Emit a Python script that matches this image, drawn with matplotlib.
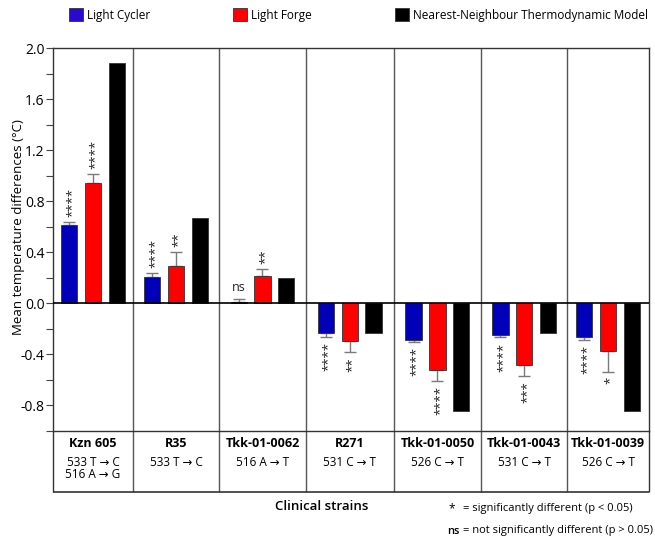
import numpy as np
import matplotlib
matplotlib.use("Agg")
import matplotlib.pyplot as plt
from matplotlib.patches import Patch

plt.rcParams['font.family'] = ['Open Sans', 'DejaVu Sans']

strains = ['Kzn 605', 'R35', 'Tkk-01-0062', 'R271', 'Tkk-01-0050', 'Tkk-01-0043', 'Tkk-01-0039']
mutations = [['533 T → C', '516 A → G'], ['533 T → C'], ['516 A → T'], ['531 C → T'],
             ['526 C → T'], ['531 C → T'], ['526 C → T']]

light_cycler = [0.61, 0.21, 0.01, -0.23, -0.285, -0.245, -0.26]
lc_err = [0.03, 0.03, 0.027, 0.03, 0.02, 0.022, 0.025]
light_forge = [0.945, 0.295, 0.215, -0.295, -0.52, -0.48, -0.375]
lf_err = [0.07, 0.105, 0.057, 0.09, 0.09, 0.09, 0.16]
nn_model = [1.88, 0.67, 0.195, -0.235, -0.845, -0.235, -0.845]

lc_sig = ['****', '****', 'ns', '****', '****', '****', '****']
lf_sig = ['****', '**', '**', '**', '****', '***', '*']

# column edges of the strain table (columns are not quite equal width)
edges = np.array([0, 0.94, 1.95, 2.97, 4.0, 5.03, 6.04, 7.0])

BLUE = '#0000b8'
RED = '#ff0000'
BLACK = '#000000'

fig = plt.figure(figsize=(6.55, 5.39), dpi=100)
ax = fig.add_axes([53 / 655, 108 / 539, 596 / 655, 383 / 539])

x = (edges[:-1] + edges[1:]) / 2
w = 0.19
off = 0.28

series = [(light_cycler, lc_err, BLUE, lc_sig, -off),
          (light_forge, lf_err, RED, lf_sig, 0.0),
          (nn_model, None, BLACK, None, off)]

for vals, err, col, sig, dx in series:
    vals = np.array(vals)
    ax.bar(x + dx, vals, width=w, color=col, edgecolor='#333333', linewidth=0.6, zorder=3)
    if err is None:
        continue
    err = np.array(err)
    lower = np.where(vals < 0, err, 0)
    upper = np.where(vals >= 0, err, 0)
    ax.errorbar(x + dx, vals, yerr=[lower, upper], fmt='none', ecolor='#7a7a7a',
                elinewidth=1, capsize=4, capthick=1, zorder=2)
    for xi, v, e, s in zip(x + dx, vals, err, sig):
        if v >= 0:
            y, va = v + e + 0.04, 'bottom'
        else:
            y, va = v - e - 0.04, 'top'
        if s == 'ns':
            ax.text(xi, y, s, ha='center', va=va, fontsize=9, color='#222222')
        else:
            ax.text(xi + 0.03, y, s, ha='center', va=va, rotation=90, fontsize=9.5,
                    color='#222222')

ax.axhline(0, color='black', lw=1.2, zorder=4)

ax.set_xlim(0, 7)
ax.set_ylim(-1.0, 2.0)
ax.set_xticks([])
ax.set_yticks(np.arange(-0.8, 2.01, 0.4))
ax.set_yticklabels([f'{t:.1f}' for t in np.arange(-0.8, 2.01, 0.4)])
ax.set_yticks(np.arange(-1.0, 2.0, 0.4), minor=True)
ax.tick_params(axis='y', which='both', direction='out', length=5, width=0.8,
               color='#444444', labelsize=10, pad=1)
for sp in ax.spines.values():
    sp.set_color('#333333')
    sp.set_linewidth(1)

ax.set_ylabel('Mean temperature differences (°C)', fontsize=9.5)
ax.yaxis.set_label_coords(-0.047, 0.533)

# group separators running down through the strain table
table_bottom = -1.478
ax.vlines(edges[1:-1], table_bottom, 2.0, color='#555555', lw=1, clip_on=False, zorder=1)
ax.vlines([edges[0], edges[-1]], table_bottom, -1.0, color='#333333', lw=1, clip_on=False)
ax.hlines(table_bottom, edges[0], edges[-1], color='#333333', lw=1.2, clip_on=False)

for xi, name, muts in zip(x, strains, mutations):
    ax.text(xi, -1.094, name, ha='center', va='center', fontsize=9, fontweight='bold', clip_on=False)
    for k, m in enumerate(muts):
        ax.text(xi, -1.243 - 0.094 * k, m, ha='center', va='center', fontsize=8.5, clip_on=False)

fig.text(322 / 655, 1 - 507 / 539, 'Clinical strains', ha='center', va='center',
         fontsize=9.5, fontweight='semibold')

# footnote
fig.text(452 / 655, 1 - 509 / 539, '*', ha='center', va='center', fontsize=8.5)
fig.text(463 / 655, 1 - 508 / 539, '= significantly different (p < 0.05)', ha='left',
         va='center', fontsize=8)
fig.text(453 / 655, 1 - 531 / 539, 'ns', ha='center', va='center', fontsize=8,
         fontweight='semibold')
fig.text(463 / 655, 1 - 531 / 539, '= not significantly different (p > 0.05)', ha='left',
         va='center', fontsize=8)

legend_items = [('Light Cycler', '#2a0ad2'), ('Light Forge', RED),
                ('Nearest-Neighbour Thermodynamic Model', BLACK)]
handles = [Patch(facecolor=c, edgecolor='#333333', linewidth=0.6, label=l) for l, c in legend_items]
fig.legend(handles=handles, loc='center left', bbox_to_anchor=(69 / 655, 1 - 15 / 539),
           ncol=3, frameon=False, fontsize=8.5, handlelength=1.2, handleheight=1.2,
           handletextpad=0.35, columnspacing=7.0, borderaxespad=0, borderpad=0)

fig.savefig('out.png', dpi=100)
